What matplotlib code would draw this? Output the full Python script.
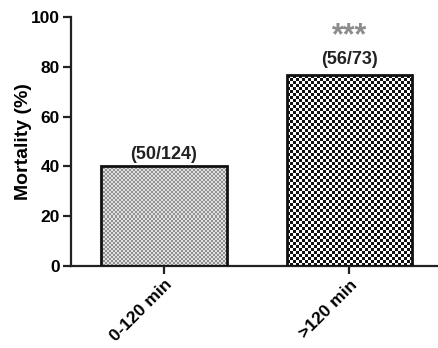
import numpy as np
import matplotlib.pyplot as plt
from matplotlib.colors import ListedColormap

plt.rcParams['font.family'] = ['Liberation Sans', 'DejaVu Sans']
plt.rcParams['font.weight'] = 'bold'

# data
groups = ['0-120 min', '>120 min']
deaths = [50, 56]
totals = [124, 73]
mortality = [100 * d / t for d, t in zip(deaths, totals)]
stars = ['', '***']

# label gap above each bar (style, data units)
label_gap = [1.0, 3.0]

fig = plt.figure(figsize=(4.38, 3.48), dpi=100)
ax = fig.add_axes([0.162, 0.236, 0.838, 0.715])

x = np.arange(len(groups))
bars = ax.bar(x, mortality, width=0.676, facecolor='none', edgecolor='#111111',
              linewidth=2.0, zorder=3)

ax.set_xlim(-0.503, 1.48)
ax.set_ylim(0, 100)
ax.set_yticks([0, 20, 40, 60, 80, 100])
ax.set_xticks(x)
ax.set_xticklabels(groups, rotation=45, ha='right', rotation_mode='anchor',
                   fontsize=12.5, fontweight='bold')
ax.set_ylabel('Mortality (%)', fontsize=14, fontweight='bold', labelpad=-1)

for s in ['top', 'right']:
    ax.spines[s].set_visible(False)
for s in ['left', 'bottom']:
    ax.spines[s].set_linewidth(1.6)
    ax.spines[s].set_color('#222222')
ax.tick_params(axis='both', width=1.6, length=6, color='#222222', pad=2)
ax.tick_params(axis='y', labelsize=12.5)
for lab in ax.get_yticklabels():
    lab.set_fontweight('bold')

# checkerboard fills, clipped to the bars
fig.canvas.draw()
fills = [(2, ['#8f8f8f', '#e0e0e0']), (3, ['#111111', '#ffffff'])]
for b, (cell, cols) in zip(bars, fills):
    ext = b.get_window_extent()
    nx = max(int(round(ext.width / cell)), 2)
    ny = max(int(round(ext.height / cell)), 2)
    board = (np.add.outer(np.arange(ny), np.arange(nx)) % 2)
    x0, y0 = b.get_x(), b.get_y()
    im = ax.imshow(board, cmap=ListedColormap(cols), interpolation='nearest',
                   extent=[x0, x0 + b.get_width(), y0, y0 + b.get_height()],
                   aspect='auto', zorder=2)
    im.set_clip_path(b)

ax.set_xlim(-0.503, 1.48)
ax.set_ylim(0, 100)

for xi, m, d, t, st, g in zip(x, mortality, deaths, totals, stars, label_gap):
    ax.text(xi, m + g, f'({d}/{t})', ha='center', va='bottom',
            fontsize=13, fontweight='bold', color='#222222')
    if st:
        ax.text(xi, m + g + 6.5, st, ha='center', va='bottom',
                fontsize=22, fontweight='bold', color='#8c8c8c')

fig.savefig('out.png', dpi=100)
